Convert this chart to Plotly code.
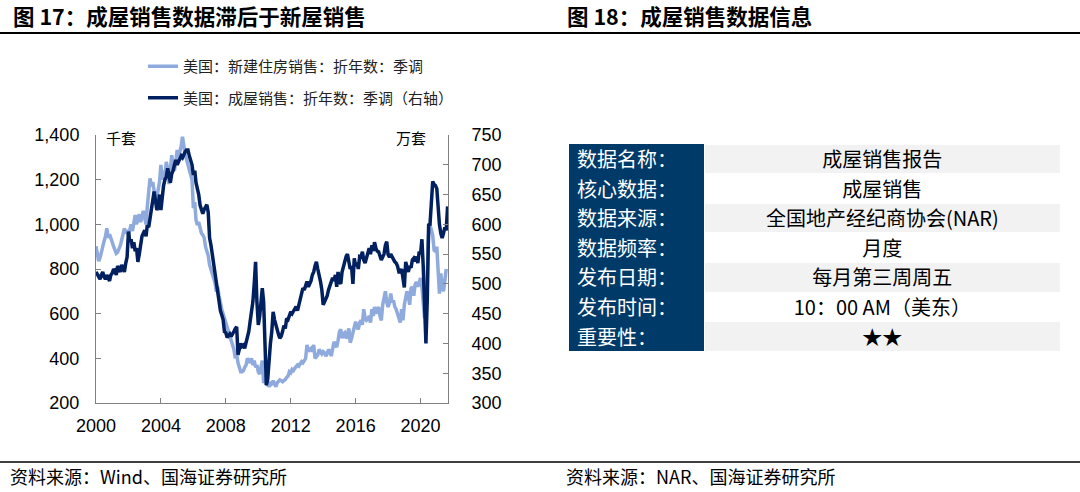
import pandas as pd
import plotly.graph_objects as go

# ---------------- data ----------------
# 美国: 新建住房销售: 折年数: 季调 (千套), monthly Jan-2000 .. Aug-2021
new_home_sales = [
    902, 865, 835, 850, 870, 900, 925, 945, 982, 940, 955, 930,        # 2000
    920, 900, 880, 870, 875, 890, 905, 930, 950, 982, 960, 975,        # 2001
    950, 985, 1000, 970, 1010, 1042, 1000, 1030, 1045, 1010, 1040, 1060,  # 2002
    1030, 1000, 1080, 1150, 1206, 1170, 1190, 1150, 1102, 1120, 1150, 1190,  # 2003
    1266, 1200, 1240, 1220, 1280, 1250, 1180, 1230, 1310, 1260, 1240, 1280,  # 2004
    1333, 1300, 1320, 1350, 1392, 1340, 1310, 1290, 1270, 1250, 1221, 1200,  # 2005
    1072, 1100, 1020, 997, 1010, 980, 960, 952, 940, 900, 880, 860,    # 2006
    818, 800, 780, 760, 740, 698, 720, 680, 640, 620, 600, 579,        # 2007
    560, 540, 520, 500, 474, 460, 440, 400, 420, 380, 360, 340,        # 2008
    340, 345, 360, 370, 400, 390, 380, 400, 370, 390, 360, 370,        # 2009
    340, 330, 370, 390, 290, 300, 285, 280, 295, 280, 285, 300,        # 2010
    285, 273, 290, 300, 303, 300, 295, 300, 305, 315, 320, 340,        # 2011
    335, 350, 345, 355, 363, 370, 365, 375, 385, 380, 390, 400,        # 2012
    460, 430, 440, 445, 430, 460, 400, 410, 415, 440, 430, 420,        # 2013
    430, 425, 410, 420, 440, 430, 410, 450, 474, 460, 450, 480,        # 2014
    519, 530, 490, 510, 515, 490, 500, 534, 470, 490, 520, 540,        # 2015
    564, 540, 530, 560, 570, 550, 620, 580, 570, 575, 590, 560,        # 2016
    620, 590, 630, 600, 615, 630, 590, 570, 640, 680, 700, 650,        # 2017
    630, 650, 690, 650, 660, 630, 620, 600, 580, 560, 620, 570,        # 2018
    640, 670, 700, 680, 640, 714, 720, 680, 730, 742, 720, 740,        # 2019
    760, 720, 620, 579, 680, 780, 960, 997, 975, 950, 885, 880,        # 2020
    900, 800, 690, 780, 720, 700, 760, 800,                            # 2021
]

# 美国: 成屋销售: 折年数: 季调 (万套, 右轴), monthly Jan-2000 .. Sep-2021
existing_home_sales = [
    520, 515, 510, 508, 515, 520, 512, 508, 515, 510, 505, 515,        # 2000
    518, 525, 522, 515, 530, 525, 520, 532, 525, 520, 535, 545,        # 2001
    588, 570, 575, 560, 570, 555, 560, 537, 550, 570, 580, 585,        # 2002
    590, 580, 599, 595, 610, 620, 640, 655, 640, 624, 630, 650,        # 2003
    624, 650, 665, 675, 680, 694, 680, 670, 685, 690, 700, 708,        # 2004
    700, 705, 710, 715, 712, 718, 722, 725, 725, 715, 705, 700,        # 2005
    683, 690, 670, 660, 650, 632, 625, 618, 625, 630, 633, 620,        # 2006
    577, 565, 550, 530, 515, 505, 490, 470, 455, 448, 440, 420,        # 2007
    418, 410, 414, 416, 412, 415, 420, 425, 428, 381, 395, 400,        # 2008
    395, 397, 392, 400, 410, 420, 437, 450, 470, 500, 537, 470,        # 2009
    431, 445, 470, 493, 470, 400, 330, 340, 380, 400, 420, 453,        # 2010
    440, 431, 420, 415, 409, 412, 420, 430, 425, 442, 440, 445,        # 2011
    453, 450, 455, 458, 462, 455, 465, 475, 480, 493, 490, 500,        # 2012
    504, 495, 500, 505, 515, 520, 530, 537, 525, 510, 504, 490,        # 2013
    465, 470, 475, 480, 490, 498, 505, 510, 505, 515, 495, 520,        # 2014
    504, 500, 520, 530, 535, 546, 550, 532, 525, 530, 500, 543,        # 2015
    530, 535, 525, 546, 545, 554, 540, 535, 545, 554, 560, 550,        # 2016
    565, 555, 570, 560, 555, 554, 545, 540, 545, 550, 565, 571,        # 2017
    549, 545, 550, 545, 540, 537, 535, 530, 520, 520, 525, 504,        # 2018
    494, 537, 525, 520, 530, 527, 540, 543, 538, 546, 535, 554,        # 2019
    550, 575, 530, 435, 400, 475, 599, 600, 640, 672, 667, 665,        # 2020
    660, 625, 600, 585, 577, 585, 595, 590, 630,                       # 2021
]

start_month = "2000-01-01"

legend_names = ["美国：新建住房销售：折年数：季调", "美国：成屋销售：折年数：季调（右轴）"]

table_labels = ["数据名称：", "核心数据：", "数据来源：", "数据频率：", "发布日期：", "发布时间：", "重要性："]
table_values = ["成屋销售报告", "成屋销售", "全国地产经纪商协会(NAR)", "月度", "每月第三周周五",
                "10：00 AM（美东）", "★★"]

title_left = "图 17：成屋销售数据滞后于新屋销售"
title_right = "图 18：成屋销售数据信息"
source_left = "资料来源：Wind、国海证券研究所"
source_right = "资料来源：NAR、国海证券研究所"

# ---------------- figure ----------------
W, H = 1080, 492
LIGHT = "#8FAADC"
DARK = "#002060"
NAVY_CELL = "#003A69"
GRAY_ROW = "#F2F2F2"
AXIS = "#808080"
CJK = "Noto Sans CJK SC"
LAT = "Liberation Sans, Arial"

dates_new = pd.date_range(start_month, periods=len(new_home_sales), freq="MS")
dates_existing = pd.date_range(start_month, periods=len(existing_home_sales), freq="MS")


def px_x(v):
    return v / W


def px_y(v):
    return 1 - v / H


fig = go.Figure()
fig.add_trace(go.Scatter(x=dates_new, y=new_home_sales, mode="lines", name=legend_names[0],
                         line=dict(color=LIGHT, width=3.5), yaxis="y", legendgroup="a"))
fig.add_trace(go.Scatter(x=dates_existing, y=existing_home_sales, mode="lines", name=legend_names[1],
                         line=dict(color=DARK, width=3.5), yaxis="y2", legendgroup="b"))

# table
n = len(table_labels)
right_fill = [GRAY_ROW if i % 2 == 0 else "white" for i in range(n)]
fig.add_trace(go.Table(
    domain=dict(x=[px_x(569), px_x(1061)], y=[px_y(352), px_y(144)]),
    columnwidth=[136, 356],
    header=dict(values=[table_labels[0], table_values[0]],
                fill_color=[NAVY_CELL, GRAY_ROW],
                line=dict(color=[NAVY_CELL, "white"], width=1),
                align=["left", "center"], height=29.6,
                font=dict(family=CJK, size=20, color=["white", "black"])),
    cells=dict(values=[table_labels[1:], table_values[1:]],
               fill_color=[[NAVY_CELL] * (n - 1), right_fill[1:]],
               line=dict(color=[NAVY_CELL, "white"], width=1),
               align=["left", "center"], height=29.6,
               font=dict(family=CJK, size=20, color=["white", "black"])),
))

fig.update_layout(
    width=W, height=H, margin=dict(l=0, r=0, t=0, b=0, pad=0, autoexpand=False),
    paper_bgcolor="white", plot_bgcolor="white",
    showlegend=True,
    legend=dict(x=px_x(143), y=px_y(50), xanchor="left", yanchor="top",
                bgcolor="rgba(0,0,0,0)", font=dict(family=CJK, size=15, color="#222222"),
                traceorder="grouped", tracegroupgap=9, itemwidth=30),
    xaxis=dict(domain=[px_x(96), px_x(448)], type="date",
               range=["2000-01-01", "2021-09-10"],
               tick0="2000-01-01", dtick="M48", tickformat="%Y",
               showline=True, linecolor=AXIS, linewidth=1,
               ticks="inside", ticklen=5, tickcolor=AXIS,
               showgrid=False, zeroline=False,
               tickfont=dict(family=LAT, size=18, color="black"),
               ticklabelstandoff=6),
    yaxis=dict(domain=[px_y(403), px_y(135)], range=[200, 1400], dtick=200,
               tickformat=",", showline=True, linecolor=AXIS, linewidth=1,
               ticks="inside", ticklen=5, tickcolor=AXIS,
               showgrid=False, zeroline=False,
               tickfont=dict(family=LAT, size=18, color="black"),
               ticklabelstandoff=12),
    yaxis2=dict(overlaying="y", side="right", anchor="x", range=[300, 750], dtick=50,
                showline=True, linecolor=AXIS, linewidth=1,
                ticks="inside", ticklen=5, tickcolor=AXIS,
                showgrid=False, zeroline=False,
                tickfont=dict(family=LAT, size=18, color="black"),
                ticklabelstandoff=19),
)

# titles / sources / unit labels
ann = [
    dict(text=f"<b>{title_left}</b>", x=px_x(11), y=px_y(16), font=dict(family=CJK, size=21.5, color="black")),
    dict(text=f"<b>{title_right}</b>", x=px_x(565), y=px_y(16), font=dict(family=CJK, size=21.5, color="black")),
    dict(text=source_left, x=px_x(8), y=px_y(476), font=dict(family=CJK, size=18, color="black")),
    dict(text=source_right, x=px_x(564), y=px_y(476), font=dict(family=CJK, size=18, color="black")),
    dict(text="千套", x=px_x(104), y=px_y(137), font=dict(family=CJK, size=15, color="black")),
    dict(text="万套", x=px_x(394), y=px_y(137), font=dict(family=CJK, size=15, color="black")),
]
for a in ann:
    fig.add_annotation(xref="paper", yref="paper", xanchor="left", yanchor="middle",
                       showarrow=False, **a)

# rules under titles and above sources
fig.add_shape(type="line", xref="paper", yref="paper", x0=0, x1=1,
              y0=px_y(33), y1=px_y(33), line=dict(color="black", width=2))
fig.add_shape(type="line", xref="paper", yref="paper", x0=0, x1=1,
              y0=px_y(462), y1=px_y(462), line=dict(color="black", width=1.5))

# remove the browser's default page margin so the figure fills the window exactly
fig.write_html("out.html", config={"displayModeBar": False},
               post_script="document.body.style.margin='0px';")
